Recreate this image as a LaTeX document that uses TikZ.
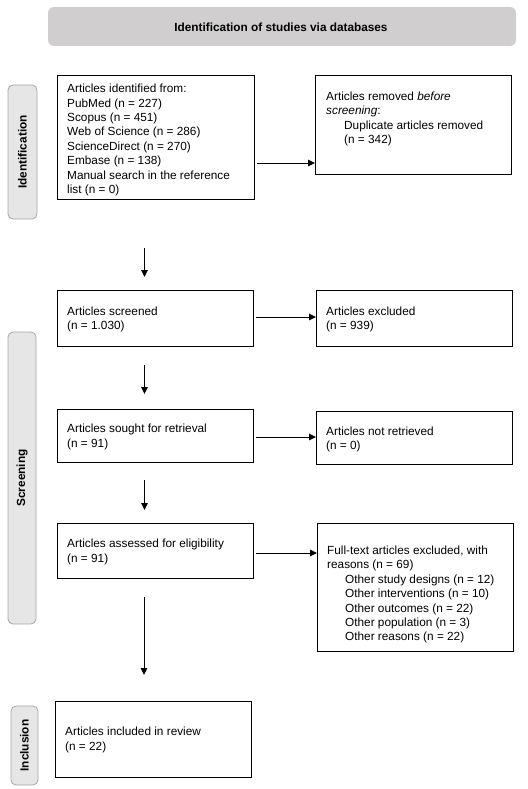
\documentclass[tikz,border=0pt]{standalone}
\usepackage{fontspec}
\setmainfont{Liberation Sans}
\usetikzlibrary{arrows.meta,calc}
\definecolor{hdr}{HTML}{D0CECE}
\definecolor{sidefill}{HTML}{E7E6E6}
\definecolor{sidedraw}{HTML}{A6A6A6}
\tikzset{
  box/.style={draw=black,line width=1pt,rectangle,inner sep=0pt,anchor=north west},
  txt/.style={anchor=north west,inner sep=0pt,align=left,font=\fontsize{11.8}{14.4}\selectfont},
  side/.style={draw=sidedraw,fill=sidefill,line width=0.8pt,rounded corners=5pt},
  sidetxt/.style={rotate=90,font=\bfseries\fontsize{11.8}{13}\selectfont,inner sep=0pt},
  arr/.style={line width=1pt,-{Triangle[length=7pt,width=6.5pt]}},
}
\begin{document}
\begin{tikzpicture}[x=1pt,y=-1pt]
\useasboundingbox (0,0) rectangle (527,789);
% header
\fill[hdr,rounded corners=6pt] (48,7) rectangle (516,46);
\node[font=\bfseries\fontsize{11.8}{13}\selectfont,inner sep=0pt] (hdrtxt) at (281,27) {Identification of studies via databases};
% side labels
\draw[side] (8,85) rectangle (37,219);
\node[sidetxt] (sideid) at (22.5,152) {Identification};
\draw[side] (8,332) rectangle (36,624);
\node[sidetxt] (sidescr) at (22,478) {Screening};
\draw[side] (11,706) rectangle (38,785);
\node[sidetxt] (sideinc) at (24.5,745.5) {Inclusion};
% boxes
\node[box,minimum width=197pt,minimum height=124pt] (ident) at (57,75) {};
\node[box,minimum width=196pt,minimum height=99pt] (removed) at (315,75) {};
\node[box,minimum width=196pt,minimum height=56pt] (screened) at (57,290) {};
\node[box,minimum width=196pt,minimum height=56pt] (excluded) at (316,290) {};
\node[box,minimum width=196pt,minimum height=53pt] (sought) at (57,409) {};
\node[box,minimum width=196pt,minimum height=53pt] (notret) at (316,411) {};
\node[box,minimum width=196pt,minimum height=55pt] (assessed) at (57,523) {};
\node[box,minimum width=196pt,minimum height=128pt] (fulltext) at (317,523) {};
\node[box,minimum width=196pt,minimum height=76pt] (included) at (55,701) {};
% texts
\node[txt] (identtxt) at (67,84) {Articles identified from:\\PubMed (n = 227)\\Scopus (n = 451)\\Web of Science (n = 286)\\ScienceDirect (n = 270)\\Embase (n = 138)\\Manual search in the reference\\list (n = 0)};
\node[txt] (removedtxt) at (326,91.7) {Articles removed \textit{before}\\\textit{screening}:\\\hspace*{18pt}Duplicate articles removed\\\hspace*{18pt}(n = 342)};
\node[txt] (screenedtxt) at (67,306.4) {Articles screened\\(n = 1.030)};
\node[txt] (excludedtxt) at (326,306.4) {Articles excluded\\(n = 939)};
\node[txt] (soughttxt) at (67,424) {Articles sought for retrieval\\(n = 91)};
\node[txt] (notrettxt) at (326,426.4) {Articles not retrieved\\(n = 0)};
\node[txt] (assessedtxt) at (67,539) {Articles assessed for eligibility\\(n = 91)};
\node[txt] (fulltexttxt) at (327,545.7) {Full-text articles excluded, with\\reasons (n = 69)\\\hspace*{18pt}Other study designs (n = 12)\\\hspace*{18pt}Other interventions (n = 10)\\\hspace*{18pt}Other outcomes (n = 22)\\\hspace*{18pt}Other population (n = 3)\\\hspace*{18pt}Other reasons (n = 22)};
\node[txt] (includedtxt) at (65,727) {Articles included in review\\(n = 22)};
% horizontal arrows
\draw[arr,shorten <=2pt] (ident.east |- 0,163) -- (removed.west |- 0,163);
\draw[arr,shorten <=2pt] (screened.east |- 0,317) -- (excluded.west |- 0,317);
\draw[arr,shorten <=2pt] (sought.east |- 0,437) -- (notret.west |- 0,437);
\draw[arr,shorten <=2pt] (assessed.east |- 0,553) -- (fulltext.west |- 0,553);
% vertical arrows
\coordinate (v1s) at (144.5,248);
\coordinate (v1e) at (144.5,277);
\coordinate (v2s) at (144.5,365);
\coordinate (v2e) at (144.5,394);
\coordinate (v3s) at (144.5,480);
\coordinate (v3e) at (144.5,510);
\coordinate (v4s) at (144,597);
\coordinate (v4e) at (144,675);
\draw[arr] (v1s) -- (v1e);
\draw[arr] (v2s) -- (v2e);
\draw[arr] (v3s) -- (v3e);
\draw[arr] (v4s) -- (v4e);
\end{tikzpicture}
\end{document}
